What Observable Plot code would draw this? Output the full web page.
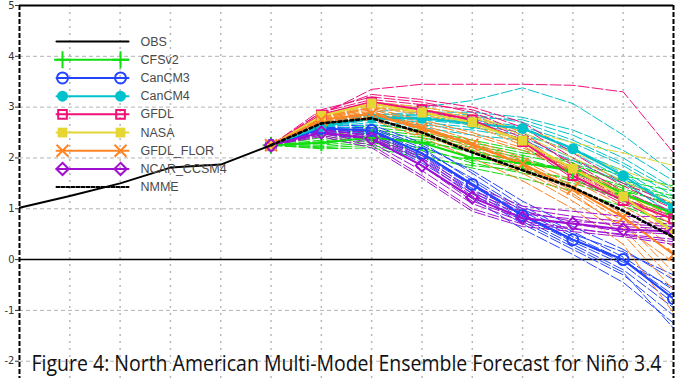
<!DOCTYPE html>
<html><head><meta charset="utf-8">
<script src="https://cdn.jsdelivr.net/npm/d3@7"></script>
<script src="https://cdn.jsdelivr.net/npm/@observablehq/plot@0.6"></script>
<style>body{margin:0;background:#fff;overflow:hidden}</style>
</head><body><div id="chart"></div>
<script>
// ---------- data ----------
const obsX = [0, 1, 2, 3, 4, 5];
const obsValues = [1.02, 1.25, 1.50, 1.81, 1.87, 2.25];
const leadX = [5, 6, 7, 8, 9, 10, 11, 12, 13];
const xGrid = [1, 2, 3, 4, 5, 6, 7, 8, 9, 10, 11, 12];
const yTicks = [-2, -1, 0, 1, 2, 3, 4, 5];
const models = ["CFSv2", "CanCM3", "CanCM4", "GFDL", "NASA", "GFDL_FLOR", "NCAR_CCSM4"];
const modelColors = ["#11dd11", "#2244ff", "#00c2cc", "#f0107a", "#e6d634", "#ff8424", "#a010d0"];
const modelSymbols = ["plus", "circle", "circle", "square2", "square", "times", "diamond2"];
const modelFilled = [false, false, true, false, true, false, false];

const meanCFSv2 = [2.25, 2.30, 2.40, 2.30, 2.00, 1.90, 1.75, 1.30, 0.90];
const meanCanCM3 = [2.25, 2.58, 2.54, 2.09, 1.48, 0.87, 0.39, 0.00, -0.77];
const meanCanCM4 = [2.25, 2.62, 2.78, 2.78, 2.68, 2.58, 2.18, 1.65, 1.02];
const meanGFDL = [2.25, 2.85, 3.10, 2.95, 2.75, 2.32, 1.65, 1.16, 0.80];
const meanNASA = [2.25, 2.83, 3.07, 2.89, 2.70, 2.34, 1.79, 1.24, 0.54];
const meanFLOR = [2.25, 2.75, 2.87, 2.58, 2.26, 1.88, 1.40, 0.83, 0.10];
const meanNCAR = [2.25, 2.50, 2.38, 1.85, 1.22, 0.82, 0.71, 0.59, 0.55];
const nmmeValues = [2.25, 2.68, 2.78, 2.50, 2.11, 1.76, 1.42, 0.96, 0.44];

const membersCFSv2 = [
  [2.25, 2.22, 2.30, 2.15, 1.95, 1.80, 1.55, 1.25, 0.95],
  [2.25, 2.28, 2.40, 2.35, 2.10, 1.95, 1.75, 1.45, 1.20],
  [2.25, 2.35, 2.55, 2.45, 2.25, 2.05, 1.85, 1.55, 1.35],
  [2.25, 2.20, 2.25, 2.05, 1.80, 1.60, 1.35, 1.05, 0.70],
  [2.25, 2.30, 2.45, 2.30, 2.15, 1.90, 1.80, 1.40, 1.05],
  [2.25, 2.40, 2.60, 2.50, 2.30, 2.10, 1.95, 1.65, 1.45],
  [2.25, 2.25, 2.35, 2.20, 1.90, 1.70, 1.50, 1.20, 0.85],
  [2.25, 2.32, 2.50, 2.40, 2.20, 2.00, 1.70, 1.35, 1.10],
  [2.25, 2.18, 2.20, 2.00, 1.85, 1.75, 1.60, 1.15, 0.60],
  [2.25, 2.45, 2.65, 2.55, 2.35, 2.15, 1.90, 1.50, 1.25]
];
const membersCanCM3 = [
  [2.25, 2.60, 2.60, 2.25, 1.75, 1.15, 0.65, 0.20, -0.40],
  [2.25, 2.55, 2.50, 2.05, 1.45, 0.85, 0.35, -0.10, -0.85],
  [2.25, 2.50, 2.40, 1.90, 1.30, 0.70, 0.20, -0.30, -1.10],
  [2.25, 2.62, 2.65, 2.30, 1.70, 1.05, 0.55, 0.05, -0.60],
  [2.25, 2.55, 2.45, 1.95, 1.35, 0.75, 0.25, -0.25, -1.35],
  [2.25, 2.58, 2.55, 2.15, 1.60, 1.00, 0.50, 0.15, -0.30],
  [2.25, 2.52, 2.48, 2.00, 1.40, 0.80, 0.30, -0.20, -0.95],
  [2.25, 2.60, 2.58, 2.20, 1.55, 0.95, 0.45, 0.00, -0.70],
  [2.25, 2.48, 2.35, 1.85, 1.20, 0.60, 0.10, -0.45, -1.25],
  [2.25, 2.56, 2.52, 2.10, 1.50, 0.90, 0.40, -0.05, -0.55]
];
const membersCanCM4 = [
  [2.25, 2.65, 2.80, 2.80, 2.70, 2.60, 2.20, 1.70, 1.05],
  [2.25, 2.70, 2.90, 3.00, 3.13, 3.38, 3.07, 2.45, 1.70],
  [2.25, 2.60, 2.75, 2.75, 2.65, 2.50, 2.10, 1.60, 1.00],
  [2.25, 2.65, 2.85, 2.85, 2.80, 2.75, 2.45, 2.00, 1.40],
  [2.25, 2.55, 2.65, 2.60, 2.45, 2.35, 1.95, 1.50, 0.90],
  [2.25, 2.70, 2.85, 2.90, 2.90, 2.80, 2.55, 2.15, 1.55],
  [2.25, 2.60, 2.70, 2.65, 2.55, 2.40, 2.00, 1.55, 0.85],
  [2.25, 2.68, 2.82, 2.80, 2.75, 2.62, 2.30, 1.85, 1.25],
  [2.25, 2.62, 2.78, 2.70, 2.60, 2.45, 2.15, 1.75, 1.15],
  [2.25, 2.66, 2.80, 2.85, 2.85, 2.70, 2.35, 1.90, 1.35]
];
const membersGFDL = [
  [2.25, 2.85, 3.35, 3.45, 3.45, 3.45, 3.43, 3.30, 2.10],
  [2.25, 2.90, 3.15, 3.05, 2.95, 2.60, 2.00, 1.45, 1.00],
  [2.25, 2.80, 3.05, 2.95, 2.80, 2.40, 1.75, 1.20, 0.85],
  [2.25, 2.95, 3.20, 3.10, 2.90, 2.50, 1.85, 1.30, 0.95],
  [2.25, 2.75, 3.00, 2.85, 2.65, 2.25, 1.60, 1.10, 0.70],
  [2.25, 2.85, 3.10, 3.00, 2.85, 2.45, 1.90, 1.35, 0.90],
  [2.25, 2.90, 3.25, 3.15, 3.00, 2.70, 2.10, 1.50, 1.10],
  [2.25, 2.80, 3.00, 2.90, 2.75, 2.35, 1.70, 1.20, 0.80]
];
const membersNASA = [
  [2.25, 2.80, 3.05, 2.95, 2.80, 2.45, 2.00, 1.55, 1.10],
  [2.25, 2.85, 3.10, 3.00, 2.85, 2.50, 2.10, 1.75, 1.40],
  [2.25, 2.75, 3.00, 2.85, 2.65, 2.25, 1.70, 1.20, 0.60],
  [2.25, 2.85, 3.05, 2.95, 2.80, 2.55, 2.30, 2.10, 1.85],
  [2.25, 2.78, 3.02, 2.88, 2.72, 2.35, 1.80, 1.30, 0.75],
  [2.25, 2.80, 3.10, 2.92, 2.68, 2.30, 1.75, 1.25, 0.50]
];
const membersFLOR = [
  [2.25, 2.75, 2.90, 2.65, 2.35, 2.00, 1.55, 1.05, 0.50],
  [2.25, 2.70, 2.80, 2.50, 2.15, 1.75, 1.25, 0.65, -0.05],
  [2.25, 2.80, 2.95, 2.70, 2.45, 2.15, 1.75, 1.30, 0.85],
  [2.25, 2.72, 2.85, 2.55, 2.20, 1.80, 1.30, 0.60, -0.40],
  [2.25, 2.78, 2.92, 2.60, 2.30, 1.95, 1.45, 0.90, 0.25],
  [2.25, 2.68, 2.75, 2.40, 2.00, 1.55, 1.00, 0.30, -1.05],
  [2.25, 2.76, 2.88, 2.62, 2.28, 1.90, 1.40, 0.85, 0.10],
  [2.25, 2.82, 2.98, 2.75, 2.50, 2.20, 1.80, 1.35, 0.65],
  [2.25, 2.70, 2.82, 2.45, 2.10, 1.70, 1.15, 0.50, -0.60],
  [2.25, 2.74, 2.86, 2.58, 2.25, 1.85, 1.35, 0.75, -0.25]
];
const membersNCAR = [
  [2.25, 2.50, 2.35, 1.85, 1.15, 0.80, 0.70, 0.55, 0.50],
  [2.25, 2.55, 2.45, 2.05, 1.35, 1.00, 0.85, 0.75, 0.70],
  [2.25, 2.45, 2.25, 1.65, 1.00, 0.70, 0.60, 0.50, 0.40],
  [2.25, 2.58, 2.50, 2.10, 1.45, 1.05, 0.95, 0.85, 0.85],
  [2.25, 2.48, 2.30, 1.75, 1.10, 0.75, 0.62, 0.48, 0.35],
  [2.25, 2.52, 2.40, 1.95, 1.25, 0.90, 0.80, 0.65, 0.60],
  [2.25, 2.42, 2.20, 1.60, 0.95, 0.65, 0.55, 0.45, 0.30],
  [2.25, 2.56, 2.42, 2.00, 1.30, 0.95, 0.75, 0.70, 0.65]
];
const modelMeans = [meanCFSv2, meanCanCM3, meanCanCM4, meanGFDL, meanNASA, meanFLOR, meanNCAR];
const modelMembers = [membersCFSv2, membersCanCM3, membersCanCM4, membersGFDL, membersNASA, membersFLOR, membersNCAR];
const legendLabels = ["OBS", "CFSv2", "CanCM3", "CanCM4", "GFDL", "NASA", "GFDL_FLOR", "NCAR_CCSM4", "NMME"];
const title = "Figure 4: North American Multi-Model Ensemble Forecast for Niño 3.4";

// ---------- layout (legend placement in data units) ----------
const legendX1 = 0.735, legendX2 = 2.167, legendMarkX = [0.855, 2.008], legendTextX = 2.405;
const legendTop = 4.29, legendStep = 0.358;
const titleWidth = 630;

// ---------- build marks ----------
const marks = [];
marks.push(Plot.ruleY(yTicks.filter(d => d !== 0 && d !== 5), {stroke: "#b4b4b4", strokeDasharray: "4,3", strokeWidth: 1}));
marks.push(Plot.ruleX(xGrid, {stroke: "#b8b8b8", strokeDasharray: "2,5", strokeWidth: 1.5}));
marks.push(Plot.ruleY([0], {stroke: "#000", strokeWidth: 1.5}));

// ensemble members
modelMembers.forEach((members, m) => {
  const rows = members.flatMap((vals, k) => vals.map((v, i) => ({x: leadX[i], y: v, z: k})));
  marks.push(Plot.line(rows, {x: "x", y: "y", z: "z", stroke: modelColors[m], strokeWidth: 1, strokeDasharray: "11,3", clip: true}));
});
// model means
modelMeans.forEach((vals, m) => {
  const rows = vals.map((v, i) => ({x: leadX[i], y: v}));
  marks.push(Plot.line(rows, {x: "x", y: "y", stroke: modelColors[m], strokeWidth: 2, clip: true}));
});
modelMeans.forEach((vals, m) => {
  const rows = vals.map((v, i) => ({x: leadX[i], y: v}));
  const opts = {x: "x", y: "y", symbol: modelSymbols[m], r: 5.5, clip: true};
  if (modelFilled[m]) { opts.fill = modelColors[m]; opts.stroke = "none"; }
  else { opts.fill = "none"; opts.stroke = modelColors[m]; opts.strokeWidth = 2; }
  marks.push(Plot.dot(rows, opts));
});
// NMME & OBS
marks.push(Plot.line(nmmeValues.map((v, i) => ({x: leadX[i], y: v})), {x: "x", y: "y", stroke: "#000", strokeWidth: 2.6, strokeDasharray: "3,3", clip: true}));
marks.push(Plot.line(obsValues.map((v, i) => ({x: obsX[i], y: v})), {x: "x", y: "y", stroke: "#000", strokeWidth: 2, clip: true}));

// frame
marks.push(Plot.ruleY([5], {stroke: "#000", strokeWidth: 2}));
marks.push(Plot.ruleX([0, 13], {stroke: "#000", strokeWidth: 2, strokeDasharray: "5,2"}));

// legend
legendLabels.forEach((lab, i) => {
  const yy = legendTop - i * legendStep;
  let color = "#000", dash = null, m = models.indexOf(lab);
  if (m >= 0) color = modelColors[m];
  if (lab === "NMME") dash = "3,2";
  marks.push(Plot.line([{x: legendX1, y: yy}, {x: legendX2, y: yy}], {x: "x", y: "y", stroke: color, strokeWidth: 2, strokeDasharray: dash}));
  if (m >= 0) {
    const opts = {x: "x", y: "y", symbol: modelSymbols[m], r: 5.5};
    if (modelFilled[m]) { opts.fill = color; opts.stroke = "none"; }
    else { opts.fill = "none"; opts.stroke = color; opts.strokeWidth = 2; }
    marks.push(Plot.dot(legendMarkX.map(x => ({x, y: yy})), opts));
  }
  marks.push(Plot.text([lab], {x: legendTextX, y: yy, text: d => d, textAnchor: "start", fill: "#4a4a4a", fontSize: 12.5, fontFamily: "Liberation Sans, Arial, sans-serif"}));
});

// y axis
marks.push(Plot.axisY(yTicks, {label: null, tickSize: 4, tickPadding: 1, fontSize: 10, fill: "#333", stroke: "#333", fontFamily: "DejaVu Sans, sans-serif", tickFormat: d => String(d)}));

// title
marks.push(Plot.text([title], {frameAnchor: "bottom", lineAnchor: "bottom", dy: -8, text: d => d, fontSize: 21, fill: "#111", fontFamily: "Open Sans, sans-serif", className: "figtitle"}));

const chart = Plot.plot({
  width: 693, height: 378,
  marginLeft: 19, marginRight: 20, marginTop: 5, marginBottom: 0,
  x: {domain: [0, 13], axis: null},
  y: {domain: [-2.34, 5], axis: null},
  style: {background: "#fff", overflow: "visible"},
  marks
});
document.getElementById("chart").appendChild(chart);
// condense the title horizontally (the original uses a narrow face)
const tg = chart.querySelector(".figtitle");
if (tg) {
  const r = tg.getBoundingClientRect();
  const sr = chart.getBoundingClientRect();
  const s = titleWidth / r.width;
  const cx = r.left - sr.left + r.width / 2;
  const prev = tg.getAttribute("transform") || "";
  tg.setAttribute("transform", `translate(${cx},0) scale(${s},1) translate(${-cx},0) ${prev}`);
}
</script>
</body></html>
